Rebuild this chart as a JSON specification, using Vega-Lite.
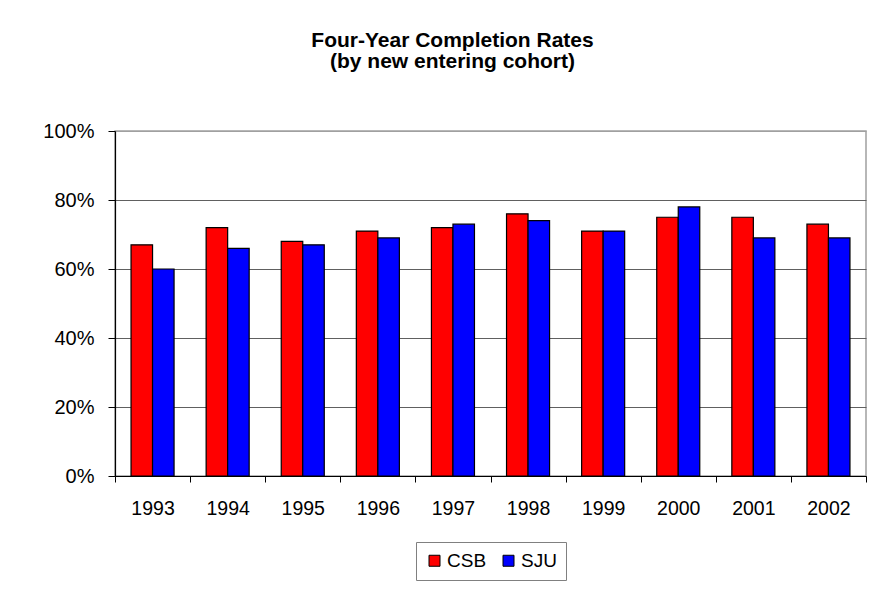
{
  "$schema": "https://vega.github.io/schema/vega-lite/v6.json",
  "width": 751,
  "height": 345,
  "autosize": {"type": "none"},
  "padding": {"left": 115, "top": 131, "right": 22, "bottom": 114},
  "background": "white",
  "title": {
    "text": ["Four-Year Completion Rates", "(by new entering cohort)"],
    "font": "Liberation Sans",
    "fontSize": 21,
    "fontWeight": "bold",
    "color": "black",
    "lineHeight": 21.5,
    "anchor": "middle",
    "frame": "group",
    "dx": -38,
    "offset": 49
  },
  "data": {
    "values": [
      {"year": "1993", "school": "CSB", "rate": 0.67},
      {"year": "1993", "school": "SJU", "rate": 0.60},
      {"year": "1994", "school": "CSB", "rate": 0.72},
      {"year": "1994", "school": "SJU", "rate": 0.66},
      {"year": "1995", "school": "CSB", "rate": 0.68},
      {"year": "1995", "school": "SJU", "rate": 0.67},
      {"year": "1996", "school": "CSB", "rate": 0.71},
      {"year": "1996", "school": "SJU", "rate": 0.69},
      {"year": "1997", "school": "CSB", "rate": 0.72},
      {"year": "1997", "school": "SJU", "rate": 0.73},
      {"year": "1998", "school": "CSB", "rate": 0.76},
      {"year": "1998", "school": "SJU", "rate": 0.74},
      {"year": "1999", "school": "CSB", "rate": 0.71},
      {"year": "1999", "school": "SJU", "rate": 0.71},
      {"year": "2000", "school": "CSB", "rate": 0.75},
      {"year": "2000", "school": "SJU", "rate": 0.78},
      {"year": "2001", "school": "CSB", "rate": 0.75},
      {"year": "2001", "school": "SJU", "rate": 0.69},
      {"year": "2002", "school": "CSB", "rate": 0.73},
      {"year": "2002", "school": "SJU", "rate": 0.69}
    ]
  },
  "mark": {"type": "bar", "stroke": "black", "strokeWidth": 1.2},
  "encoding": {
    "x": {
      "field": "year",
      "type": "nominal",
      "scale": {"paddingInner": 0, "paddingOuter": 0},
      "axis": {
        "title": null,
        "labelAngle": 0,
        "tickBand": "extent",
        "tickSize": 6,
        "tickColor": "black",
        "domainColor": "black",
        "domainWidth": 1.2,
        "labelPadding": 17,
        "labelFontSize": 19.5,
        "grid": false
      }
    },
    "xOffset": {
      "field": "school",
      "type": "nominal",
      "scale": {"paddingInner": 0, "paddingOuter": 0.745}
    },
    "y": {
      "field": "rate",
      "type": "quantitative",
      "scale": {"domain": [0, 1], "nice": false},
      "axis": {
        "title": null,
        "values": [0, 0.2, 0.4, 0.6, 0.8, 1],
        "format": ".0%",
        "tickSize": 7,
        "tickColor": "black",
        "domainColor": "black",
        "domainWidth": 1.2,
        "labelPadding": 14,
        "labelFontSize": 20,
        "grid": true,
        "gridColor": {"condition": {"test": "datum.value === 1", "value": "#a0a0a0"}, "value": "#606060"},
        "gridWidth": 1
      }
    },
    "color": {
      "field": "school",
      "type": "nominal",
      "scale": {"domain": ["CSB", "SJU"], "range": ["#ff0000", "#0000ff"]},
      "legend": {
        "title": null,
        "orient": "none",
        "direction": "horizontal",
        "legendX": 301,
        "legendY": 411,
        "symbolType": "square",
        "symbolSize": 121,
        "symbolStrokeColor": "black",
        "symbolStrokeWidth": 1,
        "symbolOpacity": 1,
        "labelOffset": 3,
        "columnPadding": 12,
        "padding": 9,
        "strokeColor": "#808080",
        "fillColor": "white"
      }
    }
  },
  "config": {
    "view": {"stroke": "#a0a0a0", "strokeWidth": 1.5},
    "axis": {
      "labelFont": "Liberation Sans",
      "labelFontSize": 19,
      "labelColor": "black"
    },
    "legend": {
      "labelFont": "Liberation Sans",
      "labelFontSize": 19,
      "labelColor": "black"
    }
  }
}
